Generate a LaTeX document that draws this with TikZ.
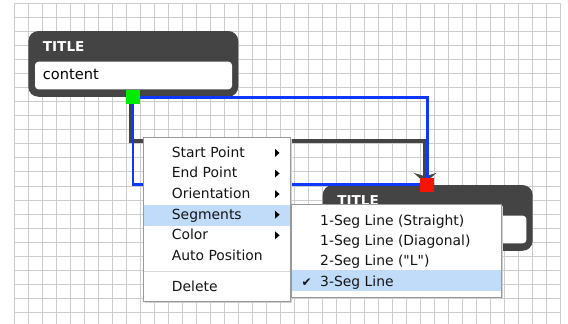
\documentclass[tikz,border=0pt]{standalone}
\usepackage{fontspec}
\setmainfont{DejaVu Sans}
\usetikzlibrary{positioning,calc,arrows.meta}
\definecolor{boxgray}{RGB}{68,68,68}
\definecolor{linkblue}{RGB}{16,56,250}
\definecolor{rowblue}{RGB}{192,220,248}
\definecolor{startgreen}{RGB}{0,235,0}
\definecolor{endred}{RGB}{245,20,0}
\newcommand*{\uifont}{\fontsize{13.9pt}{16pt}\selectfont}
\newcommand*{\headfont}{\fontsize{13.6pt}{16pt}\selectfont\bfseries}
\newcommand*{\bodyfont}{\fontsize{14.6pt}{17pt}\selectfont}

\begin{document}
\begin{tikzpicture}[x=1pt,y=-1pt,
  gridline/.style={gray!40,line width=0.9pt},
  titlebox/.style={fill=boxgray,rounded corners=10pt,minimum width=210pt,
    minimum height=65.7pt,inner sep=0pt},
  contentbox/.style={fill=white,rounded corners=3.5pt,minimum width=197pt,
    minimum height=27.6pt,inner sep=0pt},
  handle/.style={minimum size=14pt,inner sep=0pt},
  link/.style={boxgray,line width=4.2pt},
  route/.style={linkblue,line width=2.6pt},
  menubox/.style={fill=white,draw=gray!80,line width=1pt,inner sep=0pt},
  shade/.style={fill=black!18,inner sep=0pt},
  item/.style={anchor=base west,inner sep=0pt,font=\uifont,text=black!92},
  rowmark/.style={fill=rowblue,inner sep=0pt}]
\useasboundingbox (0,0) rectangle (568,324);
% Background grid
\foreach \k in {0,...,39}
  \draw[gridline] (14+14.02*\k,3.3) -- (14+14.02*\k,324);
\foreach \k in {0,...,22}
  \draw[gridline] (14,3.3+14.05*\k) -- (560.8,3.3+14.05*\k);
% First box
\node[titlebox] (box1) at (133.3,63.9) {};
\node[contentbox] (inner1) at (133.5,75.5) {};
\node[item,font=\headfont,text=white] (title1) at (42.7,51.7) {TITLE};
\node[item,font=\bodyfont,text=black] (content1) at (42.7,79) {content};
% Second box
\node[titlebox] (box2) at (427.7,217.9) {};
\node[contentbox] (inner2) at (427.9,229.5) {};
\node[item,font=\headfont,text=white] (title2) at (337.1,205.7) {TITLE};
% Dark connector between the boxes
\draw[link,-{Stealth[width=23pt,length=10pt,inset=3.5pt]}]
  ([xshift=-2.3pt]box1.south) -- ++(0,43.8) -| ([xshift=-2.6pt,yshift=2pt]box2.north);
% Blue outline of the route, end handles on top
\coordinate (s) at (133,97.2);
\coordinate (e) at (427.2,184.5);
\draw[route] (s) -| (e);
\draw[route] (s) |- (e);
\node[handle,fill=startgreen] (start) at (s) {};
\node[handle,fill=endred] (end) at (e) {};
% Context menu
\node[shade,minimum width=147pt,minimum height=164pt] (menushade) at (218.3,221) {};
\node[menubox,minimum width=147pt,minimum height=164pt] (menu) at (216.8,219.5) {};
\node[rowmark,minimum width=146pt,minimum height=21pt] (segrow) at (216.8,215.5) {};
\foreach \lbl/\yy [count=\i] in {Start Point/157.3,End Point/177.9,
    Orientation/198.5,Segments/219.1,Color/239.7,Auto Position/260.3,Delete/291.7}
  \node[item] (m\i) at (171.7,\yy) {\lbl};
% Submenu arrows
\foreach \yy in {157.3,177.9,198.5,219.1,239.7}
  \fill (275,\yy-8.4) -- (279.6,\yy-4.4) -- (275,\yy-0.4) -- cycle;
\draw[gray!30,line width=1pt] (144,271.7) -- (289.6,271.7);
% Segments submenu
\node[shade,minimum width=210pt,minimum height=92.3pt] (subshade) at (397.8,252.4) {};
\node[menubox,minimum width=210pt,minimum height=92.3pt] (sub) at (396.3,250.85) {};
\node[rowmark,minimum width=209pt,minimum height=21pt] (segrow3) at (396.3,280.8) {};
\foreach \lbl/\yy [count=\i] in {1-Seg Line (Straight)/225.3,1-Seg Line (Diagonal)/245.5,
    2-Seg Line (\textquotedbl L\textquotedbl)/265.7,3-Seg Line/286}
  \node[item] (s\i) at (320,\yy) {\lbl};
\node[item,font=\fontsize{12pt}{14pt}\selectfont] (tick) at (301.5,286) {✔};
\end{tikzpicture}
\end{document}
